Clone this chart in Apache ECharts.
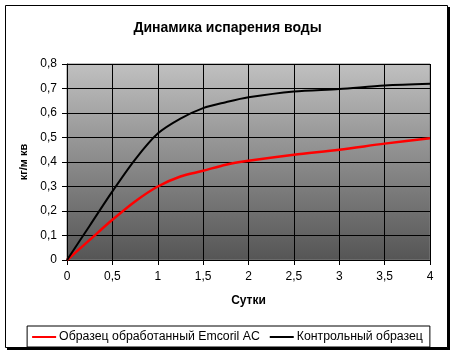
<!DOCTYPE html>
<html><head><meta charset="utf-8">
<script src="https://cdn.jsdelivr.net/npm/echarts@6/dist/echarts.min.js"></script>
<style>html,body{margin:0;padding:0;background:#fff}#c{width:455px;height:355px}</style>
</head><body><div id="c"></div>
<script>
const days = [0, 0.25, 0.5, 0.75, 1.0, 1.25, 1.5, 1.75, 2.0, 2.5, 3.0, 3.5, 4.0];
const treated = [0, 0.082, 0.164, 0.239, 0.300, 0.341, 0.364, 0.389, 0.405, 0.430, 0.450, 0.475, 0.497];
const control = [0, 0.14, 0.28, 0.41, 0.516, 0.577, 0.620, 0.644, 0.664, 0.688, 0.698, 0.712, 0.719];
const seriesNames = ['Образец обработанный Emcoril AC', 'Контрольный образец'];
const titleText = 'Динамика испарения воды';
const xTitle = 'Сутки';
const yTitle = 'кг/м кв';

const font = 'Arial, "Liberation Sans", sans-serif';
const chart = echarts.init(document.getElementById('c'), null, {renderer: 'canvas'});
chart.setOption({
  animation: false,
  backgroundColor: '#fff',
  graphic: [
    {type: 'rect', z: -10, shape: {x: 7, y: 7, width: 443, height: 343}, style: {fill: '#000'}},
    {type: 'rect', z: -9, shape: {x: 5.5, y: 5.5, width: 442, height: 342}, style: {fill: '#fff', stroke: '#000', lineWidth: 1}}
  ],
  title: {
    text: titleText, left: 'center', top: 16,
    textStyle: {fontFamily: font, fontSize: 14, fontWeight: 'bold', color: '#000'}
  },
  legend: {
    data: seriesNames, bottom: 8, left: 'center',
    icon: 'rect', itemWidth: 24, itemHeight: 2, itemGap: 10,
    borderColor: '#000', borderWidth: 1, padding: [5, 7, 4, 5],
    textStyle: {fontFamily: font, fontSize: 12.3, color: '#000', padding: [0, 0, 0, -2]}
  },
  grid: {
    left: 67, right: 25, top: 64, bottom: 95, show: true,
    borderColor: '#808080', borderWidth: 1,
    backgroundColor: new echarts.graphic.LinearGradient(0, 0, 0, 1, [
      {offset: 0, color: '#c0c0c0'}, {offset: 1, color: '#555555'}
    ])
  },
  xAxis: {
    type: 'value', min: 0, max: 4, interval: 0.5,
    name: xTitle, nameLocation: 'middle', nameGap: 35,
    nameTextStyle: {fontFamily: font, fontSize: 12, fontWeight: 'bold', color: '#000'},
    axisLine: {lineStyle: {color: '#000'}},
    axisTick: {show: true, length: 5, lineStyle: {color: '#000'}},
    splitLine: {show: true, lineStyle: {color: '#000', width: 1}},
    axisLabel: {fontFamily: font, fontSize: 12, color: '#000', margin: 11,
      formatter: v => String(v).replace('.', ',')}
  },
  yAxis: {
    type: 'value', min: 0, max: 0.8, interval: 0.1,
    name: yTitle, nameLocation: 'middle', nameGap: 36, nameRotate: 90,
    nameTextStyle: {fontFamily: font, fontSize: 11, fontWeight: 'bold', color: '#000'},
    axisLine: {show: true, lineStyle: {color: '#000'}},
    axisTick: {show: true, length: 5, lineStyle: {color: '#000'}},
    splitLine: {show: true, lineStyle: {color: '#000', width: 1}},
    axisLabel: {fontFamily: font, fontSize: 12, color: '#000', margin: 10,
      formatter: v => (Math.round(v * 10) / 10).toString().replace('.', ',')}
  },
  series: [
    {name: seriesNames[0], type: 'line', smooth: 0.3, showSymbol: false, symbol: 'none',
     data: days.map((d, i) => [d, treated[i]]),
     itemStyle: {color: '#ff0000'}, lineStyle: {color: '#ff0000', width: 2.5}},
    {name: seriesNames[1], type: 'line', smooth: 0.3, showSymbol: false, symbol: 'none',
     data: days.map((d, i) => [d, control[i]]),
     itemStyle: {color: '#000'}, lineStyle: {color: '#000', width: 2}}
  ]
});
</script></body></html>
